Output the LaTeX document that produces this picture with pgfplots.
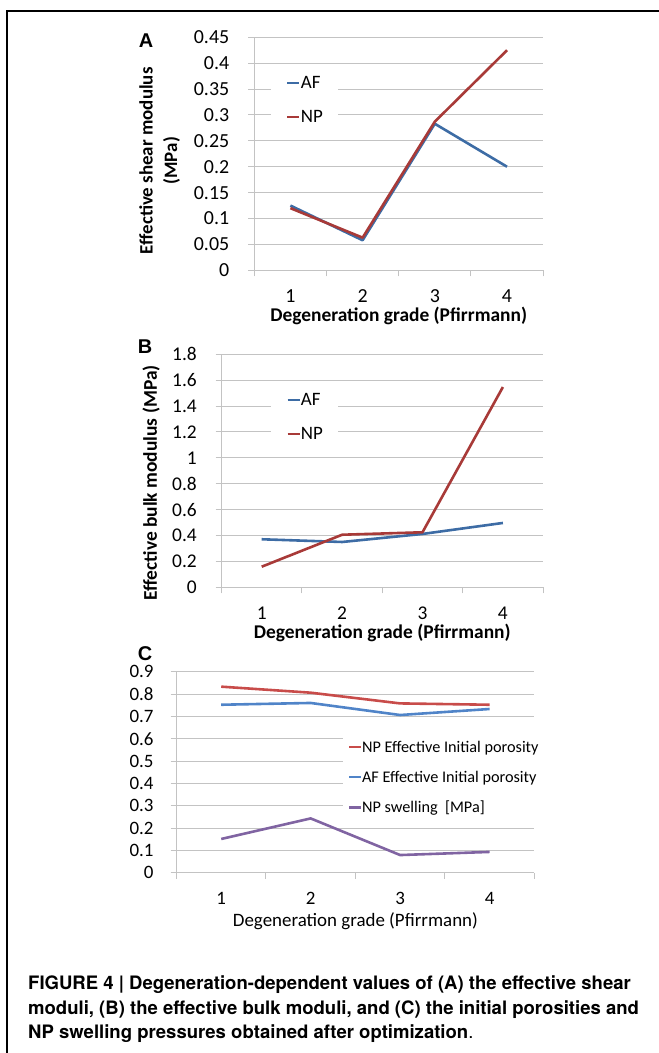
\documentclass[border=0pt]{standalone}
\usepackage{fontspec}
\setmainfont{Carlito}
\newfontfamily\capfont{TeX Gyre Heros}
\newfontfamily\letterfont{Liberation Sans}
\usepackage{pgfplots}
\pgfplotsset{compat=1.18}
\definecolor{gridgray}{RGB}{195,195,195}
\definecolor{afblue}{RGB}{61,108,165}
\definecolor{npred}{RGB}{168,58,56}
\definecolor{cred}{RGB}{200,76,74}
\definecolor{cblue}{RGB}{80,132,200}
\definecolor{cpurple}{RGB}{128,100,162}
\pgfplotsset{
 panel/.style={
  scale only axis,
  xmin=0.5, xmax=4.5, ymin=0,
  axis x line*=bottom, axis y line*=left,
  axis line style={draw=gridgray, line width=1bp},
  ymajorgrids, grid style={draw=gridgray, line width=1bp},
  tick align=outside, major tick length=6bp,
  tick style={draw=gridgray, line width=1bp},
  xtick={0.5,1.5,2.5,3.5,4.5}, xticklabels={},
  extra x ticks={1,2,3,4}, extra x tick labels={1,2,3,4},
  extra x tick style={major tick length=0pt},
  scaled y ticks=false,
  /pgf/number format/assume math mode=true,
  yticklabel style={/pgf/number format/fixed, /pgf/number format/precision=2, anchor=east, inner sep=0pt},
  xticklabel style={anchor=center, inner sep=0pt},
  every axis x label/.style={at={(axis description cs:0.5,0)}, anchor=center},
  every axis y label/.style={rotate=90, anchor=center},
  legend cell align=left,
  legend style={draw=none, fill=white, anchor=north west},
  clip=false,
 },
 dline/.style={line width=2.6bp, line join=round, no markers},
}
\begin{document}
\begin{tikzpicture}[x=1bp,y=1bp]
\useasboundingbox (0,0) rectangle (659,1053);
\draw[line width=1.3bp] (7,0) -- (7,1042) -- (659,1042);

% Panel A
\begin{axis}[panel, at={(254.3bp,782.7bp)}, anchor=south west,
  width=288.8bp, height=233bp, ymax=0.45,
  ytick={0,0.05,0.1,0.15,0.2,0.25,0.3,0.35,0.4,0.45},
  yticklabel style={xshift=-18.9bp, font=\fontsize{20}{24}\selectfont},
  xticklabel style={yshift=-25.7bp, font=\fontsize{20}{24}\selectfont},
  xlabel={Degeneration grade (Pfirrmann)},
  xlabel style={yshift=-45.7bp, font=\bfseries\fontsize{19.5}{23}\selectfont},
  ylabel={Effective shear modulus\\(MPa)},
  ylabel style={at={(axis description cs:-0.328,0.47)}, align=center, font=\bfseries\fontsize{19}{24.5}\selectfont},
  legend style={at={(axis description cs:0.0578,0.876)}, inner xsep=15bp, inner ysep=6bp, row sep=13bp,
    font=\fontsize{19}{22}\selectfont, nodes={inner ysep=1bp, inner xsep=0bp, text height=15.6bp, text depth=3.4bp}},
  legend image code/.code={\draw[#1] (0bp,0bp) -- (12bp,0bp);},
]
\addplot[dline, afblue] coordinates {(1,0.125) (2,0.058) (3,0.283) (4,0.2)};
\addplot[dline, npred] coordinates {(1,0.12) (2,0.063) (3,0.287) (4,0.425)};
\legend{AF,NP}
\end{axis}

% Panel B
\begin{axis}[panel, at={(221.5bp,465.7bp)}, anchor=south west,
  width=321.6bp, height=233bp, ymax=1.8,
  ytick={0,0.2,0.4,0.6,0.8,1,1.2,1.4,1.6,1.8},
  yticklabel style={xshift=-18.5bp, font=\fontsize{19.5}{24}\selectfont},
  xticklabel style={yshift=-26bp, font=\fontsize{19.5}{24}\selectfont},
  xlabel={Degeneration grade (Pfirrmann)},
  xlabel style={yshift=-46bp, font=\bfseries\fontsize{19.5}{23}\selectfont},
  ylabel={Effective bulk modulus (MPa)},
  ylabel style={at={(axis description cs:-0.219,0.448)}, font=\bfseries\fontsize{19.5}{23}\selectfont},
  legend style={at={(axis description cs:0.154,0.876)}, inner xsep=15bp, inner ysep=6bp, row sep=13bp,
    font=\fontsize{19}{22}\selectfont, nodes={inner ysep=1bp, inner xsep=0bp, text height=15.6bp, text depth=3.4bp}},
  legend image code/.code={\draw[#1] (0bp,0bp) -- (12bp,0bp);},
]
\addplot[dline, afblue] coordinates {(1,0.371) (2,0.35) (3,0.412) (4,0.497)};
\addplot[dline, npred] coordinates {(1,0.159) (2,0.406) (3,0.425) (4,1.547)};
\legend{AF,NP}
\end{axis}

% Panel C
\begin{axis}[panel, at={(176.5bp,180.3bp)}, anchor=south west,
  width=357.8bp, height=201bp, ymax=0.9,
  ytick={0,0.1,0.2,0.3,0.4,0.5,0.6,0.7,0.8,0.9},
  yticklabel style={xshift=-16.8bp, font=\fontsize{19}{23}\selectfont},
  xticklabel style={yshift=-25.3bp, font=\fontsize{19}{23}\selectfont},
  xlabel={Degeneration grade (Pfirrmann)},
  xlabel style={yshift=-49bp, font=\fontsize{19}{23}\selectfont},
  legend style={at={(axis description cs:0.465,0.7025)}, inner xsep=5bp, inner ysep=6bp, row sep=12bp,
    font=\fontsize{16.3}{20}\selectfont, nodes={inner ysep=1bp, inner xsep=0bp, text height=13.4bp, text depth=2.9bp}},
  legend image code/.code={\draw[#1] (0bp,0bp) -- (11.4bp,0bp);},
]
\addplot[dline, cred] coordinates {(1,0.833) (2,0.806) (3,0.758) (4,0.752)};
\addplot[dline, cblue] coordinates {(1,0.752) (2,0.76) (3,0.706) (4,0.733)};
\addplot[dline, cpurple] coordinates {(1,0.151) (2,0.243) (3,0.079) (4,0.093)};
\legend{NP Effective Initial porosity, AF Effective Initial porosity, NP swelling\ \ [MPa]}
\end{axis}

% panel letters
\node[font=\letterfont\bfseries\fontsize{20}{24}\selectfont] at (146,1012.2) {A};
\node[font=\letterfont\bfseries\fontsize{20}{24}\selectfont] at (145,706.3) {B};
\node[font=\letterfont\bfseries\fontsize{20}{24}\selectfont] at (145,399) {C};

% caption
\begin{scope}[every node/.style={anchor=base west, inner sep=0pt, font=\capfont\bfseries\fontsize{18.6}{24}\selectfont}]
\node at (28,63) {FIGURE 4 | Degeneration-dependent values of (A) the effective shear};
\node at (28,38.5) {moduli, (B) the effective bulk moduli, and (C) the initial porosities and};
\node at (28,14.5) {NP swelling pressures obtained after optimization{\mdseries .}};
\end{scope}
\end{tikzpicture}
\end{document}
